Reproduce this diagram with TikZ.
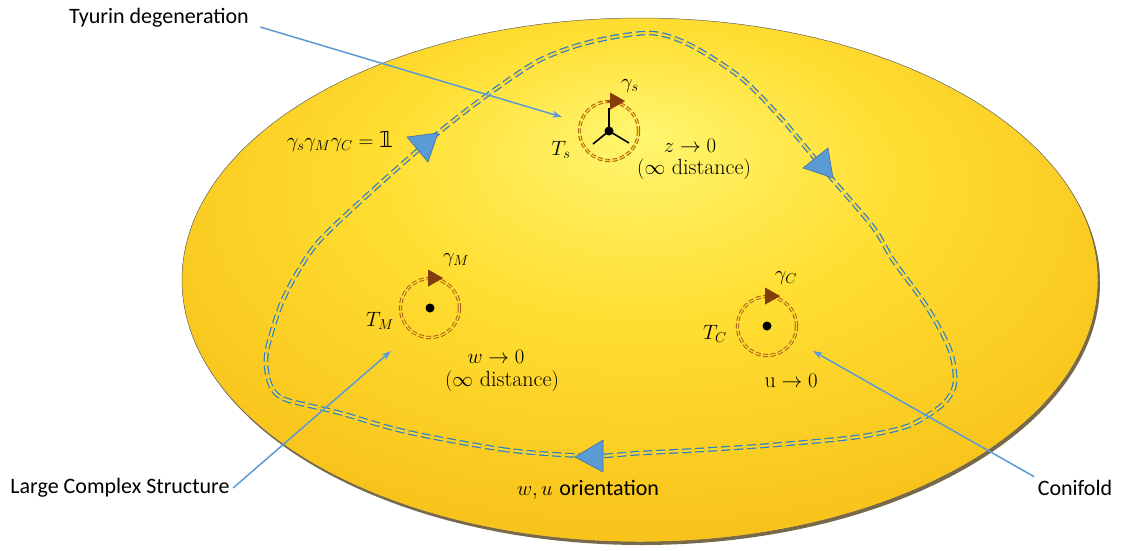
\documentclass[tikz,border=0pt]{standalone}
\usepackage{fontspec}
\usetikzlibrary{arrows.meta}
\newfontfamily\calibri{Carlito}
\newfontfamily\symbfont{DejaVu Sans}
\newcommand{\unitone}{\hbox{\symbfont 𝟙}}
\definecolor{loopblue}{RGB}{40,125,200}
\definecolor{tipblue}{RGB}{91,155,213}
\definecolor{tipedge}{RGB}{65,113,156}
\definecolor{calloutblue}{RGB}{91,155,213}
\definecolor{ringbrown}{RGB}{165,85,25}
\definecolor{tipbrown}{RGB}{132,60,12}
\definecolor{yolkhi}{RGB}{255,246,112}
\definecolor{yolkmid}{RGB}{255,222,50}
\definecolor{yolklo}{RGB}{247,192,24}
\definecolor{yolkrim}{RGB}{120,105,75}
\definecolor{loopfill}{RGB}{254,214,45}
\pgfdeclareradialshading{yolk}{\pgfpoint{0bp}{14bp}}{color(0bp)=(yolkhi); color(14bp)=(yolkmid); color(32bp)=(yolklo); color(50bp)=(yolklo)}
\tikzset{
  callout/.style={draw=calloutblue,line width=1.5pt,-{Stealth[length=10pt,width=7pt]}},
  calloutlabel/.style={font=\calibri\fontsize{22}{26}\selectfont},
  loopline/.style={draw=loopblue,double=loopfill,double distance=2.2pt,line width=1.2pt,dash pattern=on 9pt off 4pt},
  looptip/.style={fill=tipblue,draw=tipedge,line width=0.6pt},
  ring/.style={circle,draw=ringbrown,double=loopfill,double distance=1.4pt,line width=0.9pt,dash pattern=on 5pt off 2.5pt,minimum size=59pt,inner sep=0pt},
  ringtip/.style={draw=tipbrown,line width=0.4pt,-{Triangle[length=15pt,width=17pt]},tipbrown},
  dot/.style={circle,fill=black,inner sep=0pt,minimum size=9pt},
  spoke/.style={line width=1.6pt}
}
\begin{document}
\begin{tikzpicture}[x=1pt,y=-1pt,font=\fontsize{22}{26}\selectfont]
\useasboundingbox (0,0) rectangle (1121,550);
% moduli space
\fill[yolkrim] (642,283) ellipse [x radius=458, y radius=262];
\shade[shading=yolk] (640,280) ellipse [x radius=458, y radius=262];
\draw[gray!75!black,line width=0.5pt] (640,280) ellipse [x radius=458, y radius=262];
% loop round the three points
\draw[loopline] plot[smooth cycle] coordinates {(590,456) (507,450) (407,432) (340,413) (287,400) (273,390) (267,373) (267,350) (280,307) (297,273) (320,240) (373,190) (438,133) (490,93) (540,60) (590,42) (650,33) (690,45) (740,77) (780,117) (827,173) (873,227) (893,260) (927,307) (950,350) (955,382) (947,400) (930,414) (905,427) (857,437) (773,445) (700,450) (640,453)};
\filldraw[looptip] (438,133) -- (407,137) -- (428,162) -- cycle;
\filldraw[looptip] (833,178) -- (828,148) -- (803,168) -- cycle;
\filldraw[looptip] (575,457) -- (603,440) -- (603,472) -- cycle;
% the three points
\node[ring] (S) at (609,131) {};
\node[ring] (M) at (430,308) {};
\node[ring] (C) at (767,326) {};
\node[dot] (Sdot) at (S) {};
\node[dot] (Mdot) at (M) {};
\node[dot] (Cdot) at (C) {};
\draw[spoke] (Sdot.center) -- +(0,-23) (Sdot.center) -- +(-16,13) (Sdot.center) -- +(20,12);
\draw[ringtip] ([xshift=-2pt]S.north) -- ([xshift=16pt]S.north);
\draw[ringtip] ([xshift=-2pt]M.north) -- ([xshift=13pt]M.north);
\draw[ringtip] ([xshift=-2pt]C.north) -- ([xshift=13pt]C.north);
% labels
\node (gs) at (630,86) {$\gamma_s$};
\node (Ts) at (561,150) {$T_s$};
\node (zlim) at (690,146) {$z\rightarrow 0$};
\node (zdist) at (694,169) {$(\infty$ distance$)$};
\node (gm) at (456,260) {$\gamma_M$};
\node (Tm) at (380,321) {$T_M$};
\node (wlim) at (496,357) {$w\rightarrow 0$};
\node (wdist) at (502,381) {$(\infty$ distance$)$};
\node (gc) at (786,278) {$\gamma_C$};
\node (Tc) at (715,334) {$T_C$};
\node (ulim) at (791,381) {$\mathrm{u}\rightarrow 0$};
\node (rel) at (340,141) {$\gamma_s\gamma_M\gamma_C=\unitone$};
\node (orient) at (588,490) {$w,u$ {\calibri orientation}};
% callouts
\node[calloutlabel] (tyurin) at (159,18) {Tyurin degeneration};
\node[calloutlabel] (lcs) at (120,488) {Large Complex Structure};
\node[calloutlabel] (conifold) at (1075,488) {Conifold};
\coordinate (tyurintip) at (562,117);
\coordinate (lcstip) at (391,351);
\coordinate (conitip) at (813,351);
\draw[callout] ([xshift=8pt,yshift=4pt]tyurin.south east) -- (tyurintip);
\draw[callout] (lcs.east) -- (lcstip);
\draw[callout] (conifold.north west) -- (conitip);
\end{tikzpicture}
\end{document}
